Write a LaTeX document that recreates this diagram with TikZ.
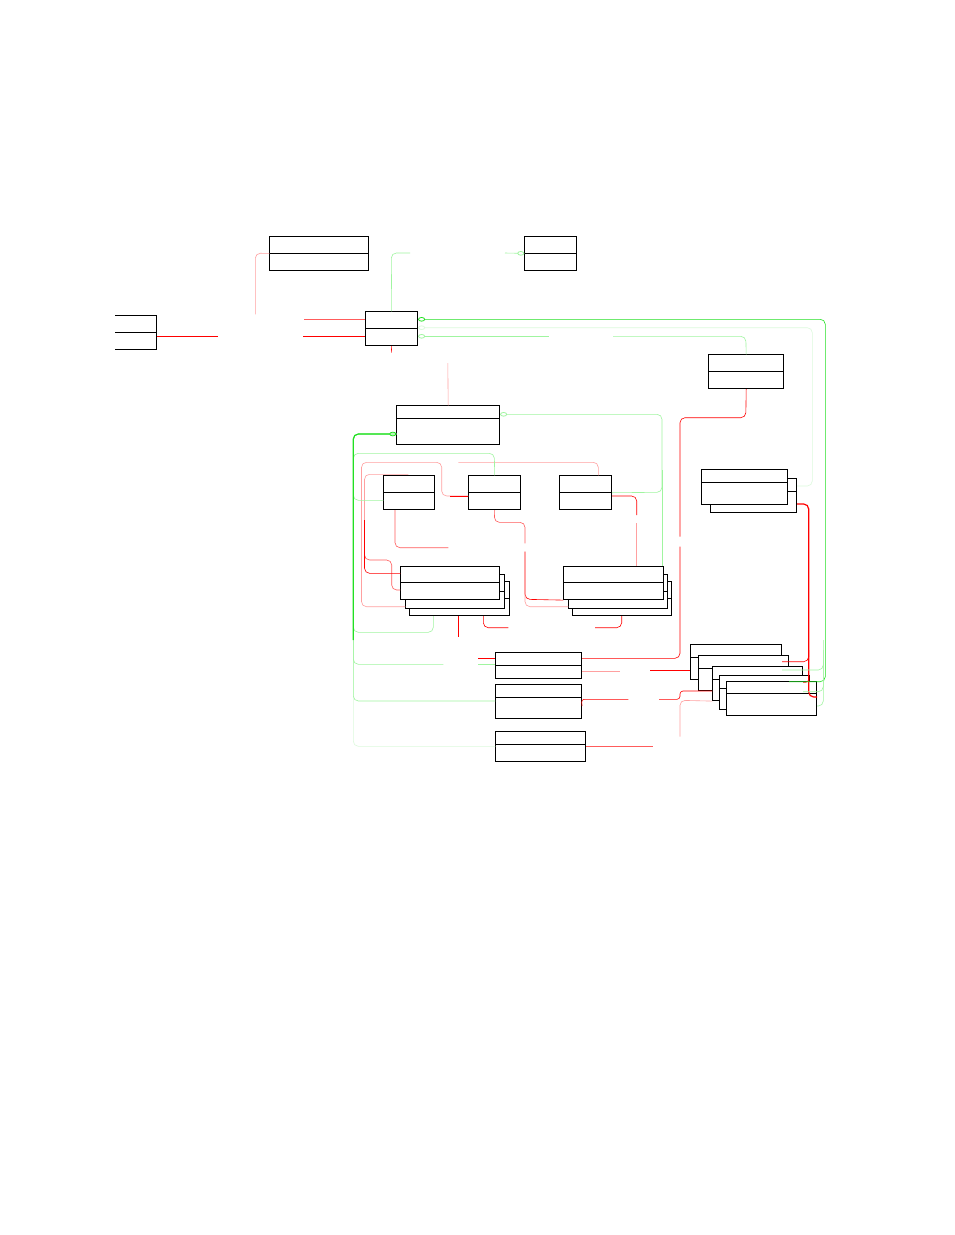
\documentclass[tikz,border=0pt]{standalone}
\usepackage{tikz}
\usetikzlibrary{arrows.meta, positioning}

\definecolor{relred}{HTML}{FF0000}
\definecolor{relsalmon}{HTML}{FF5C5C}
\definecolor{relpink}{HTML}{FFA0A0}
\definecolor{relgreen}{HTML}{22E022}
\definecolor{relmint}{HTML}{A0F5A0}
\definecolor{relpale}{HTML}{DCFADC}

\tikzset{
    % Class box style
    classbox/.style={
        rectangle,
        anchor=north west,
        inner sep=0pt,
        draw=black,
        fill=white,
        line width=0.8pt
    },
    % Connector styles
    rel/.style={
        line width=0.6pt,
        draw=#1,
        rounded corners=5pt
    },
    assoc/.style={
        rel=#1,
        {Circle[open, length=7pt, width=4.5pt, line width=0.8pt]}-
    }
}

% compartment line of a class box
\newcommand{\classdiv}[2]{\draw[line width=0.8pt] ([yshift=-#2pt]#1.north west) -- ([yshift=-#2pt]#1.north east);}

\begin{document}
\begin{tikzpicture}[x=1pt, y=-1pt]
    \path[use as bounding box, fill=white] (0,0) rectangle (954,1235);

    % Top row
    \node[classbox, minimum width=99pt, minimum height=34pt] (conf) at (269.3,236) {};
    \classdiv{conf}{17}
    \node[classbox, minimum width=52pt, minimum height=34pt] (tag) at (524.3,236) {};
    \classdiv{tag}{17}
    \node[anchor=north west, inner sep=0pt, minimum width=41.3pt, minimum height=34pt] (input) at (115,315.3) {};
    \draw[line width=0.8pt] (input.north west) -- (input.north east) -- (input.south east) -- (input.south west);
    \classdiv{input}{17}
    \node[classbox, minimum width=52pt, minimum height=34pt] (hub) at (365.3,311.3) {};
    \classdiv{hub}{17}
    \node[classbox, minimum width=75pt, minimum height=34pt] (store) at (708.3,354.3) {};
    \classdiv{store}{17}

    % Core and units
    \node[classbox, minimum width=103pt, minimum height=39pt] (core) at (396.3,405.3) {};
    \classdiv{core}{13}
    \node[classbox, minimum width=51pt, minimum height=34pt] (unitl) at (383.3,475.3) {};
    \classdiv{unitl}{17}
    \node[classbox, minimum width=52pt, minimum height=34pt] (unitm) at (468.3,475.3) {};
    \classdiv{unitm}{17}
    \node[classbox, minimum width=52pt, minimum height=34pt] (unitr) at (559.3,475.3) {};
    \classdiv{unitr}{17}

    % Stacked groups
    \node[classbox, minimum width=99.4pt, minimum height=34pt] (grouplc) at (409.3,581.3) {};
    \classdiv{grouplc}{17.4}
    \node[classbox, minimum width=99pt, minimum height=34pt] (grouplb) at (405.3,574.3) {};
    \classdiv{grouplb}{17}
    \node[classbox, minimum width=99pt, minimum height=33.6pt] (groupl) at (400.3,565.7) {};
    \classdiv{groupl}{16.6}
    \node[classbox, minimum width=99pt, minimum height=34pt] (grouprc) at (572.3,581.3) {};
    \classdiv{grouprc}{17.4}
    \node[classbox, minimum width=99pt, minimum height=34pt] (grouprb) at (568.3,574.3) {};
    \classdiv{grouprb}{17}
    \node[classbox, minimum width=100pt, minimum height=33.6pt] (groupr) at (563.3,565.7) {};
    \classdiv{groupr}{16.6}
    \node[classbox, minimum width=86pt, minimum height=34.3pt] (queueb) at (710.3,478) {};
    \classdiv{queueb}{13.3}
    \node[classbox, minimum width=86pt, minimum height=35pt] (queue) at (701.3,469.3) {};
    \classdiv{queue}{12.7}

    % Links
    \node[classbox, minimum width=86pt, minimum height=26pt] (linka) at (495.3,652.3) {};
    \classdiv{linka}{13}
    \node[classbox, minimum width=86pt, minimum height=34pt] (linkb) at (495.3,684.3) {};
    \classdiv{linkb}{13}
    \node[classbox, minimum width=90pt, minimum height=30pt] (linkc) at (495.3,731.3) {};
    \classdiv{linkc}{13}

    % Pool stack
    \node[classbox, minimum width=91pt, minimum height=35pt] (pool1) at (690.3,644.3) {};
    \classdiv{pool1}{13}
    \node[classbox, minimum width=90pt, minimum height=35.3pt] (pool2) at (698.3,655) {};
    \classdiv{pool2}{13.3}
    \node[classbox, minimum width=90pt, minimum height=34pt] (pool3) at (712.3,666.3) {};
    \classdiv{pool3}{13}
    \node[classbox, minimum width=90pt, minimum height=34pt] (pool4) at (719.3,675.3) {};
    \classdiv{pool4}{13}
    \node[classbox, minimum width=90pt, minimum height=34pt] (pool5) at (726.3,681.3) {};
    \classdiv{pool5}{11.7}

    % Free ends
    \coordinate (gapa) at (217.7,336.3);
    \coordinate (gapb) at (303,336.3);
    \coordinate (gapc) at (304,319.3);
    \coordinate (gapd) at (255.3,314.3);
    \coordinate (gape) at (391.3,352.7);
    \coordinate (gapf) at (447.8,363);
    \coordinate (gapg) at (680,536.7);
    \coordinate (gaph) at (680,546.7);
    \coordinate (gapi) at (620,671);
    \coordinate (gapj) at (650,670.5);
    \coordinate (gapk) at (628.3,699.3);
    \coordinate (gapl) at (659,699.3);
    \coordinate (gapm) at (680,736.7);
    \coordinate (gapn) at (653.3,746.3);
    \coordinate (gapo) at (478.3,658.3);
    \coordinate (gapp) at (408.3,474.3);
    \coordinate (gappq) at (364.5,520);
    \coordinate (gapq) at (448.3,547.7);
    \coordinate (gapr) at (458.3,462.3);
    \coordinate (gaps) at (636.7,515);
    \coordinate (gapt) at (636.7,523);
    \coordinate (gapu) at (525,543.3);
    \coordinate (gapv) at (525,551.7);
    \coordinate (gapw) at (458.3,636.7);
    \coordinate (gapx) at (508.3,627.7);
    \coordinate (gapy) at (595,627.7);
    \coordinate (gapz) at (410,253);
    \coordinate (gaptag) at (505,253);
    \coordinate (gaphub) at (549,336.3);
    \coordinate (gapstore) at (613,336.3);
    \coordinate (gapfork) at (662,470);
    \coordinate (gapbus) at (353.3,640);
    \coordinate (gapka) at (443.3,664.3);
    \coordinate (gapkb) at (478.3,664.3);
    \coordinate (gappa) at (823.3,640);
    \coordinate (gappb) at (823.3,650);
    \coordinate (gappc) at (823.3,660);
    \coordinate (gapqa) at (808.7,650);
    \coordinate (gapqb) at (808.7,676);

    % Red connectors
    \draw[rel=relred] (input.east |- 0,336.3) -- (gapa);
    \draw[rel=relred] (gapb) -- (hub.west |- 0,336.3);
    \draw[rel=relsalmon] (gapc) -- (hub.west |- 0,319.3);
    \draw[rel=relpink] (conf.west) -- (255.3,253.2) -- (gapd);
    \draw[rel=relred] (hub.south) -- (gape);
    \draw[rel=relpink] (gapf) -- (core.north);
    \draw[rel=relred] (store.south) -- (745.8,417.7) -- (680,417.7) -- (gapg);
    \draw[rel=relred] (gaph) -- (680,658.3) -- (linka.east |- 0,658.3);
    \draw[rel=relpink] (linka.east |- 0,671) -- (gapi);
    \draw[rel=relred] (gapj) -- (pool1.west |- 0,670.5);
    \draw[rel=relred, rounded corners=3pt] (linkb.east |- 0,706) -- (581.3,699.3) -- (gapk);
    \draw[rel=relred, rounded corners=3pt] (gapl) -- (680,699.3) -- (680,691) -- (pool3.west |- 0,691);
    \draw[rel=relpink] (pool3.south west) -- (680,700.3) -- (gapm);
    \draw[rel=relsalmon] (linkc.east |- 0,746.3) -- (gapn);
    \draw[rel=relred] (gapo) -- (linka.west |- 0,658.3);
    \draw[rel=relred, line width=1.2pt] (queueb.east |- 0,504) -- (808.7,504) -- (808.7,697) -- (pool5.east |- 0,697);
    \draw[rel=relred] (pool1.east |- 0,661.7) -- (808.7,661.7) -- (gapqa);
    \draw[rel=relred, rounded corners=3pt] (gapqb) -- (808.7,682.3) -- (pool3.east |- 0,682.3);

    \draw[rel=relpink] (unitm.west |- 0,496) -- (441.7,496) -- (441.7,462.3) -- (361.5,462.3) -- (361.5,606.7) -- (grouplb.west |- 0,606.7);
    \draw[rel=relred] (unitm.west |- 0,496) -- (450,496);
    \draw[rel=relpink] (gapp) -- (364.5,474.3) -- (gappq);
    \draw[rel=relsalmon] (gappq) -- (364.5,560) -- (391.7,560) -- (391.7,590) -- (groupl.west |- 0,590);
    \draw[rel=relred] (gappq) -- (364.5,573.3) -- (groupl.west |- 0,573.3);
    \draw[rel=relsalmon] (unitl.south -| 395,0) -- (395,547.7) -- (gapq);
    \draw[rel=relpink] (unitr.north -| 598.3,0) -- (598.3,462.3) -- (gapr);
    \draw[rel=relred] (unitr.east |- 0,496) -- (636.7,496) -- (gaps);
    \draw[rel=relpink] (gapt) -- (groupr.north -| 636.7,0);
    \draw[rel=relsalmon] (unitm.south) -- (494.3,522.3) -- (525,522.3) -- (gapu);
    \draw[rel=relred] (gapv) -- (525,599.3) -- (groupr.south west);
    \draw[rel=relpink] (gapv) -- (525,606.7) -- (grouprb.west |- 0,606.7);
    \draw[rel=relred] (grouplc.south -| 458.3,0) -- (gapw);
    \draw[rel=relred] (grouplc.south -| 483.3,0) -- (483.3,627.7) -- (gapx);
    \draw[rel=relred] (grouprc.south -| 621.7,0) -- (621.7,627.7) -- (gapy);

    % Green connectors
    \draw[rel=relmint] (hub.north) -- (391.3,253) -- (gapz);
    \draw[assoc=relmint] (tag.west) -- (gaptag);
    \draw[assoc=relpale] (hub.east |- 0,327.7) -- (812.3,327.7) -- (812.3,486) -- (queueb.east |- 0,486);
    \draw[assoc=relmint] (hub.east |- 0,336.3) -- (gaphub);
    \draw[rel=relmint] (gapstore) -- (745.8,336.3) -- (store.north);
    \draw[assoc=relgreen] (hub.east |- 0,319.3) -- (825.3,319.3) -- (825.3,681.7) -- (pool2.east |- 0,681.7);
    \draw[assoc=relmint] (core.east |- 0,414.3) -- (662,414.3) -- (662,492.3) -- (unitr.east);
    \draw[rel=relmint] (gapfork) -- (groupr.north -| 662,0);
    \draw[rel=relmint] (unitm.north) -- (494.3,453.3) -- (353.3,453.3) -- (353.3,500.3) -- (unitl.west |- 0,500.3);
    \draw[rel=relpale] (core.west |- 0,434) -- (353.3,434) -- (353.3,746.3) -- (linkc.west |- 0,746.3);
    \draw[rel=relmint] (core.west |- 0,434) -- (353.3,434) -- (353.3,701) -- (linkb.west |- 0,701);
    \draw[rel=relmint] (core.west |- 0,434) -- (353.3,434) -- (353.3,664.3) -- (gapka);
    \draw[rel=relmint] (gapkb) -- (linka.west |- 0,664.3);
    \draw[rel=relmint] (core.west |- 0,434) -- (353.3,434) -- (353.3,632.3) -- (433.3,632.3) -- (grouplc.south -| 433.3,0);
    \draw[assoc=relgreen, line width=1.2pt] (core.west |- 0,434) -- (353.3,434) -- (gapbus);
    \draw[rel=relmint] (pool1.east |- 0,670) -- (823.3,670) -- (gappa);
    \draw[rel=relmint] (pool3.east |- 0,691.7) -- (823.3,691.7) -- (gappb);
    \draw[rel=relmint] (pool5.east |- 0,706) -- (823.3,706) -- (gappc);

\end{tikzpicture}
\end{document}
